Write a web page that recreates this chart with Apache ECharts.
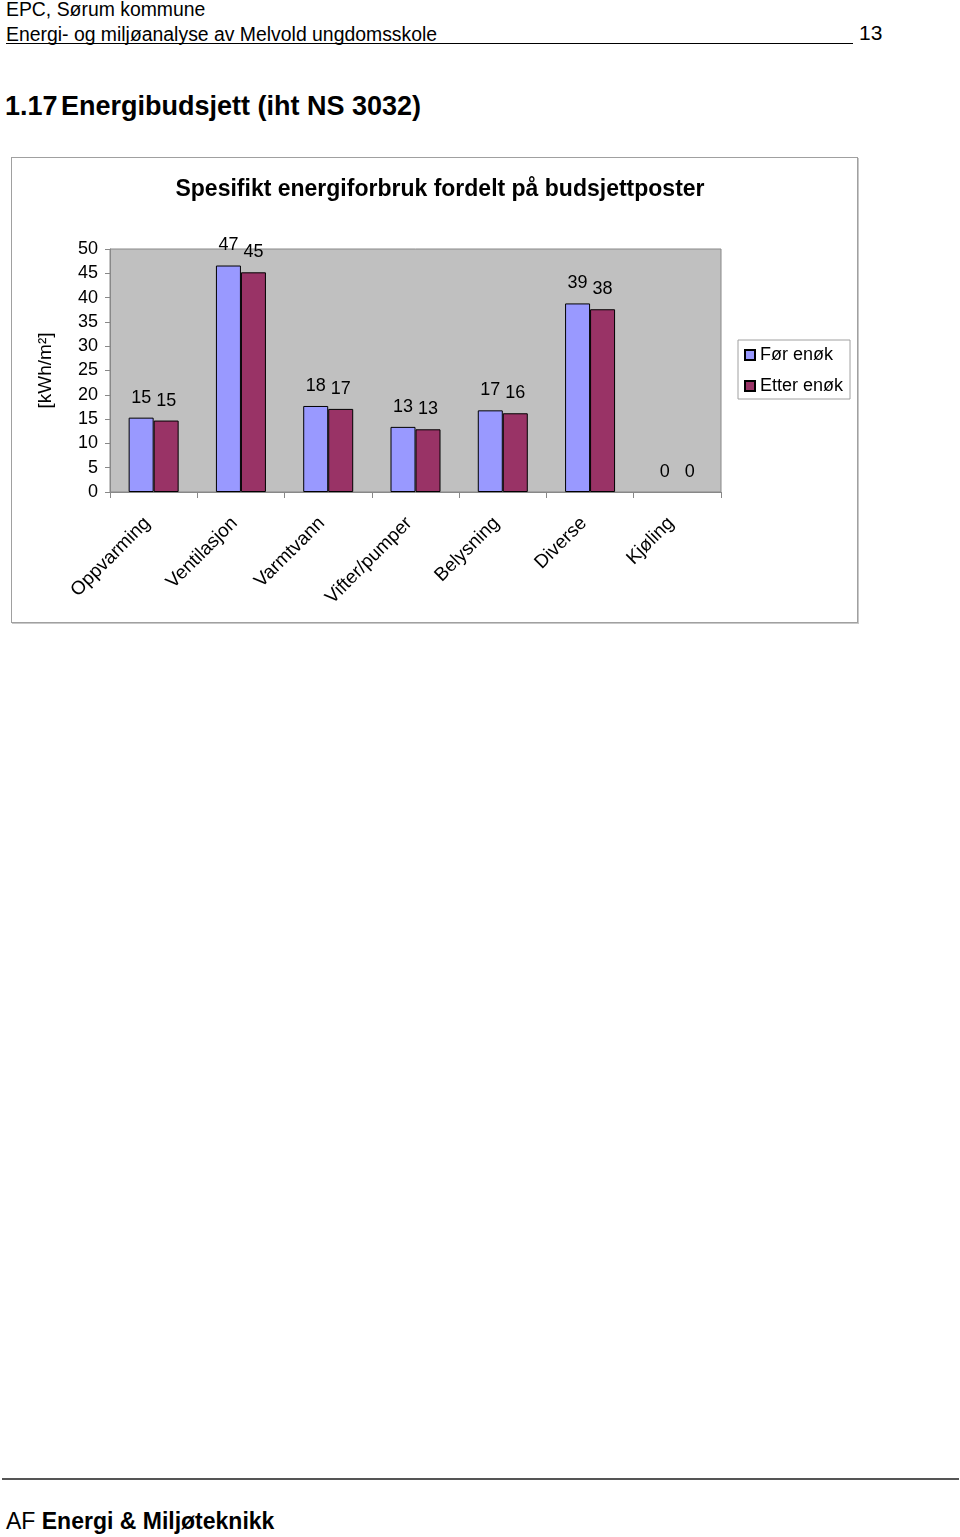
<!DOCTYPE html>
<html><head><meta charset="utf-8">
<script src="https://cdn.jsdelivr.net/npm/echarts@6/dist/echarts.min.js"></script>
<style>
html,body{margin:0;padding:0;background:#fff;width:960px;height:1537px;position:relative;overflow:hidden;font-family:"Liberation Sans",Arial,sans-serif;color:#000}
.t{position:absolute;white-space:nowrap}
#chart{position:absolute;left:11px;top:157px;width:845px;height:464px;border:1px solid #a0a0a0;box-shadow:1px 1px 0 #c8c8c8}
</style></head><body>
<div class="t" style="left:6px;top:-2px;font-size:19.4px;">EPC, Sørum kommune</div>
<div class="t" style="left:6px;top:23px;font-size:19.4px;">Energi- og miljøanalyse av Melvold ungdomsskole</div>
<div style="position:absolute;left:6px;top:43px;width:847px;height:1px;background:#000"></div>
<div class="t" style="left:859px;top:21px;font-size:21px;">13</div>
<div class="t" style="left:5px;top:91px;font-size:27px;font-weight:bold;">1.17</div>
<div class="t" style="left:61px;top:91px;font-size:27px;font-weight:bold;">Energibudsjett (iht NS 3032)</div>
<div style="position:absolute;left:2px;top:1478px;width:957px;height:2px;background:#555"></div>
<div class="t" style="left:6px;top:1508px;font-size:23px;">AF <b>Energi &amp; Miljøteknikk</b></div>
<div id="chart"></div>
<script>
const categories = ["Oppvarming","Ventilasjon","Varmtvann","Vifter/pumper","Belysning","Diverse","Kjøling"];
const forEnok = [15.3, 46.6, 17.7, 13.4, 16.8, 38.8, 0];
const etterEnok = [14.7, 45.2, 17.1, 12.9, 16.2, 37.6, 0];
const seriesNames = ["Før enøk","Etter enøk"];
const yTicks = {min:0, max:50, interval:5};

const chart = echarts.init(document.getElementById('chart'), null, {renderer:'canvas'});
const F = '"Liberation Sans", Arial, sans-serif';
const lbl = {show:true, position:'top', distance:11, color:'#000', fontSize:18, fontFamily:F,
  formatter: p => Math.round(p.value)};
const toData = arr => arr.map(v => v === 0 ? {value:v, itemStyle:{borderWidth:0}} : v);
chart.setOption({
  animation:false,
  textStyle:{fontFamily:F},
  title:{text:'Spesifikt energiforbruk fordelt på budsjettposter', left:423, top:15, textAlign:'center',
    textStyle:{fontSize:23, fontWeight:'bold', color:'#000', fontFamily:F}},
  legend:{orient:'vertical', left:726, top:182, itemWidth:10, itemHeight:10, itemGap:13,
    backgroundColor:'#fff', borderColor:'#a0a0a0', borderWidth:1, padding:[6,7,4,6],
    textStyle:{fontSize:18, color:'#000', fontFamily:F},
    data:seriesNames.map(n=>({name:n, icon:'rect'}))},
  grid:{left:98, top:91, width:611, height:243, backgroundColor:'#c0c0c0', show:true, borderColor:'#888', borderWidth:1},
  xAxis:{type:'category', data:categories,
    axisLine:{lineStyle:{color:'#888'}}, axisTick:{show:true, length:6, lineStyle:{color:'#888'}},
    axisLabel:{rotate:45, fontSize:19, color:'#000', margin:22, interval:0, fontFamily:F, padding:[0,9,0,0]}},
  yAxis:{type:'value', min:yTicks.min, max:yTicks.max, interval:yTicks.interval,
    name:'[kWh/m²]', nameLocation:'middle', nameGap:55, nameRotate:90,
    nameTextStyle:{fontSize:19, color:'#000', fontFamily:F},
    axisLine:{show:true, lineStyle:{color:'#888'}}, axisTick:{show:true, length:5, lineStyle:{color:'#888'}},
    splitLine:{show:false},
    axisLabel:{fontSize:18, color:'#000', margin:12, fontFamily:F}},
  series:[
    {name:seriesNames[0], type:'bar', data:toData(forEnok), barWidth:25, barGap:'0%', barCategoryGap:'57%',
     itemStyle:{color:'#9999ff', borderColor:'#000', borderWidth:1}, label:lbl},
    {name:seriesNames[1], type:'bar', data:toData(etterEnok), barWidth:25, barGap:'0%',
     itemStyle:{color:'#993366', borderColor:'#000', borderWidth:1}, label:lbl}
  ]
});
</script>
</body></html>
